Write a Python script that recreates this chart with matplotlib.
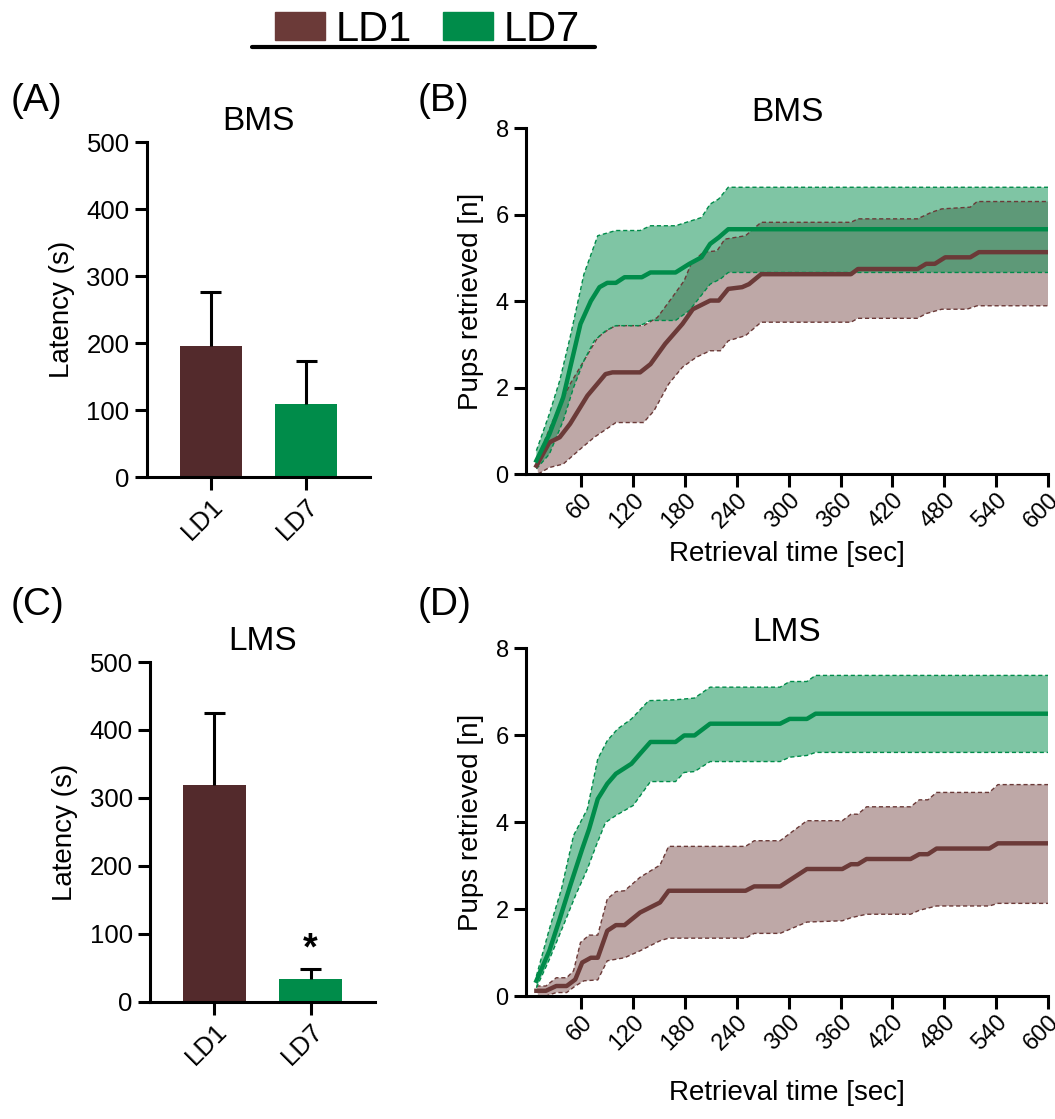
import numpy as np
import matplotlib
matplotlib.use("Agg")
import matplotlib.pyplot as plt
from matplotlib.patches import Patch
from matplotlib.lines import Line2D

plt.rcParams['font.family'] = ['Liberation Sans', 'DejaVu Sans']

# colors
brown = '#6B3A38'
brown_bar = '#532A2C'
green = '#008C4A'

# --- bar panels (latency) ---
groups = ['LD1', 'LD7']
bms_latency = [195, 109]
bms_sem = [81, 64]
lms_latency = [319, 34]
lms_sem = [106, 15]

# --- BMS cumulative retrieval (panel B) ---
b_ld7_t = [8, 23, 39, 49, 59, 71, 81, 90, 100, 110, 130, 140, 169, 185, 199, 209, 219, 230, 600]
b_ld7_m = [0.31, 0.92, 1.77, 2.62, 3.47, 4.0, 4.32, 4.42, 4.42, 4.55, 4.55, 4.66, 4.66, 4.86, 5.01, 5.32, 5.47, 5.66, 5.66]
b_ld7_up_t = [8, 23, 35, 47, 63, 79, 100, 128, 140, 169, 199, 209, 219, 230, 600]
b_ld7_up = [0.54, 1.39, 2.16, 3.16, 4.62, 5.51, 5.63, 5.63, 5.74, 5.74, 5.93, 6.24, 6.36, 6.63, 6.63]
b_ld7_lo_t = [8, 23, 39, 51, 63, 75, 88, 100, 128, 140, 169, 185, 209, 221, 230, 600]
b_ld7_lo = [0.12, 0.46, 1.23, 2.0, 2.62, 3.08, 3.31, 3.43, 3.43, 3.55, 3.55, 3.78, 4.39, 4.51, 4.66, 4.66]

b_ld1_t = [8, 23, 35, 47, 67, 88, 96, 128, 140, 157, 177, 189, 209, 219, 230, 246, 254, 268, 372, 380, 449, 459,
           469, 481, 510, 520, 600]
b_ld1_m = [0.19, 0.73, 0.85, 1.16, 1.81, 2.31, 2.35, 2.35, 2.54, 3.01, 3.47, 3.81, 4.01, 4.01, 4.28, 4.32, 4.39,
           4.62, 4.62, 4.74, 4.74, 4.86, 4.86, 5.01, 5.01, 5.13, 5.13]
b_ld1_up_t = [8, 27, 47, 63, 79, 92, 100, 132, 148, 165, 179, 187, 201, 217, 226, 250, 268, 372, 380, 449, 465,
              477, 510, 518, 600]
b_ld1_up = [0.31, 1.23, 2.08, 2.62, 3.16, 3.35, 3.43, 3.43, 3.62, 4.08, 4.47, 4.86, 5.13, 5.16, 5.43, 5.51, 5.82,
            5.82, 5.9, 5.9, 6.05, 6.13, 6.17, 6.3, 6.3]
b_ld1_lo_t = [10, 23, 39, 59, 75, 92, 100, 132, 144, 161, 177, 193, 209, 221, 230, 250, 268, 372, 380, 449, 459,
              477, 506, 518, 600]
b_ld1_lo = [0.0, 0.15, 0.23, 0.58, 0.85, 1.08, 1.19, 1.19, 1.46, 2.08, 2.47, 2.7, 2.85, 2.85, 3.08, 3.2, 3.51,
            3.51, 3.6, 3.6, 3.71, 3.81, 3.81, 3.89, 3.89]

# --- LMS cumulative retrieval (panel D) ---
d_ld7_t = [8, 23, 35, 47, 61, 69, 79, 90, 100, 118, 128, 140, 169, 179, 191, 209, 290, 301, 321, 331, 600]
d_ld7_m = [0.35, 1.04, 1.77, 2.53, 3.38, 3.84, 4.53, 4.88, 5.11, 5.34, 5.57, 5.84, 5.84, 5.99, 5.99, 6.26, 6.26,
           6.37, 6.37, 6.49, 6.49]
d_ld7_up_t = [8, 23, 37, 51, 67, 79, 90, 102, 118, 138, 169, 191, 209, 290, 301, 321, 331, 600]
d_ld7_up = [0.46, 1.54, 2.46, 3.69, 4.3, 5.45, 5.87, 6.14, 6.37, 6.79, 6.81, 6.85, 7.1, 7.1, 7.23, 7.23, 7.37, 7.37]
d_ld7_lo_t = [8, 23, 39, 53, 67, 77, 88, 100, 120, 140, 169, 179, 191, 209, 290, 301, 321, 331, 600]
d_ld7_lo = [0.19, 0.84, 1.61, 2.3, 2.92, 3.45, 3.99, 4.15, 4.38, 4.93, 4.93, 5.14, 5.16, 5.39, 5.39, 5.49, 5.53,
            5.6, 5.6]

d_ld1_t = [8, 19, 31, 43, 53, 61, 71, 79, 90, 100, 110, 128, 151, 161, 250, 260, 290, 321, 362, 372, 380, 390,
           441, 451, 461, 471, 532, 542, 600]
d_ld1_m = [0.12, 0.12, 0.23, 0.23, 0.38, 0.77, 0.88, 0.88, 1.5, 1.63, 1.63, 1.92, 2.15, 2.42, 2.42, 2.52, 2.52,
           2.92, 2.92, 3.03, 3.03, 3.15, 3.15, 3.26, 3.26, 3.39, 3.39, 3.51, 3.51]
d_ld1_up_t = [8, 19, 31, 43, 51, 59, 69, 79, 90, 100, 110, 128, 151, 161, 250, 260, 290, 321, 362, 372, 380, 390,
              441, 451, 461, 471, 532, 542, 600]
d_ld1_up = [0.23, 0.23, 0.42, 0.42, 0.58, 1.23, 1.4, 1.4, 2.23, 2.4, 2.42, 2.73, 3.01, 3.44, 3.44, 3.57, 3.57,
            4.03, 4.03, 4.18, 4.18, 4.35, 4.35, 4.51, 4.51, 4.68, 4.68, 4.86, 4.86]
d_ld1_lo_t = [10, 19, 31, 43, 53, 63, 79, 90, 110, 128, 151, 161, 250, 260, 290, 321, 362, 372, 390, 441, 451,
              471, 532, 542, 600]
d_ld1_lo = [0.0, 0.0, 0.08, 0.08, 0.23, 0.35, 0.37, 0.81, 0.88, 1.04, 1.27, 1.33, 1.33, 1.44, 1.44, 1.7, 1.73,
            1.8, 1.88, 1.88, 1.97, 2.07, 2.07, 2.13, 2.13]

time_ticks = [60, 120, 180, 240, 300, 360, 420, 480, 540, 600]


def style_axes(ax, size):
    # GraphPad-like axes: thick left/bottom spines only
    for s in ['top', 'right']:
        ax.spines[s].set_visible(False)
    for s in ['left', 'bottom']:
        ax.spines[s].set_linewidth(2.2)
    ax.tick_params(width=2.2, length=9, labelsize=size, color='black')


def bar_panel(ax, values, errs, title, star=False):
    x = np.arange(len(values))
    tops = np.array(values) + np.array(errs)
    ax.bar(x, values, width=0.65, color=[brown_bar, green])
    # only the upper half of the error bar, like GraphPad
    ax.vlines(x, values, tops, color='black', lw=2.2)
    ax.hlines(tops, x - 0.11, x + 0.11, color='black', lw=2.2)
    ax.set_xlim(-0.67, 1.67)
    ax.set_ylim(0, 500)
    ax.set_yticks([0, 100, 200, 300, 400, 500])
    ax.set_xticks(x)
    ax.set_xticklabels(groups, rotation=45, ha='right', rotation_mode='anchor')
    ax.set_ylabel('Latency (s)', fontsize=20, labelpad=8)
    ax.set_title(title, fontsize=24, pad=9)
    style_axes(ax, 18.5)
    if star:
        ax.text(1, tops[1] + 1, '*', ha='center', va='bottom',
                fontsize=27, fontweight='bold')


def band(ax, t_up, up, t_lo, lo, color, alpha):
    # shaded SEM band between upper and lower dashed lines
    xs = np.concatenate([t_up, t_lo[::-1]])
    ys = np.concatenate([up, lo[::-1]])
    ax.fill(xs, ys, color=color, alpha=alpha, lw=0)
    ax.plot(t_up, up, color=color, lw=1, ls=(0, (3, 2)))
    ax.plot(t_lo, lo, color=color, lw=1, ls=(0, (3, 2)))


def curve_panel(ax, title, ld1, ld7, xpad):
    band(ax, ld1[2], ld1[3], ld1[4], ld1[5], brown, 0.44)
    band(ax, ld7[2], ld7[3], ld7[4], ld7[5], green, 0.5)
    ax.plot(ld1[0], ld1[1], color=brown, lw=3.2)
    ax.plot(ld7[0], ld7[1], color=green, lw=3.2)
    ax.set_xlim(-4, 600)
    ax.set_ylim(0, 8)
    ax.set_yticks([0, 2, 4, 6, 8])
    ax.set_xticks(time_ticks)
    # top-right corner of each label sits under its tick, so "600" stays inside
    ax.set_xticklabels([str(t) for t in time_ticks], rotation=45, ha='right',
                       va='top', rotation_mode='anchor')
    ax.set_xlabel('Retrieval time [sec]', fontsize=20, labelpad=xpad)
    ax.set_ylabel('Pups retrieved [n]', fontsize=20, labelpad=8)
    ax.set_title(title, fontsize=24, pad=5)
    style_axes(ax, 17)
    ax.tick_params(axis='x', pad=2)


fig = plt.figure(figsize=(10.55, 11.19), dpi=100)

axA = fig.add_axes([0.1393, 0.5737, 0.2114, 0.2994])
axB = fig.add_axes([0.4986, 0.5764, 0.4948, 0.3092])
axC = fig.add_axes([0.1422, 0.1046, 0.2133, 0.3038])
axD = fig.add_axes([0.4986, 0.1099, 0.4948, 0.3110])

bar_panel(axA, bms_latency, bms_sem, 'BMS')
bar_panel(axC, lms_latency, lms_sem, 'LMS', star=True)

curve_panel(axB, 'BMS',
            (b_ld1_t, b_ld1_m, b_ld1_up_t, b_ld1_up, b_ld1_lo_t, b_ld1_lo),
            (b_ld7_t, b_ld7_m, b_ld7_up_t, b_ld7_up, b_ld7_lo_t, b_ld7_lo), 6)
curve_panel(axD, 'LMS',
            (d_ld1_t, d_ld1_m, d_ld1_up_t, d_ld1_up, d_ld1_lo_t, d_ld1_lo),
            (d_ld7_t, d_ld7_m, d_ld7_up_t, d_ld7_up, d_ld7_lo_t, d_ld7_lo), 18)

# panel letters
for x, y, lab in [(0.010, 0.91, '(A)'), (0.396, 0.91, '(B)'),
                  (0.010, 0.459, '(C)'), (0.396, 0.459, '(D)')]:
    fig.text(x, y, lab, fontsize=28, va='center', ha='left')

# legend on top with underline
handles = [Patch(color=brown, label='LD1'), Patch(color=green, label='LD7')]
fig.legend(handles=handles, loc='upper center', bbox_to_anchor=(0.405, 1.025), ncol=2,
           frameon=False, fontsize=30, handlelength=1.2, handleheight=0.65,
           handletextpad=0.25, columnspacing=0.75)
fig.add_artist(Line2D([0.239, 0.564], [0.958, 0.958], color='black', lw=3,
                      transform=fig.transFigure, solid_capstyle='round'))

fig.savefig('out.png', dpi=100)
